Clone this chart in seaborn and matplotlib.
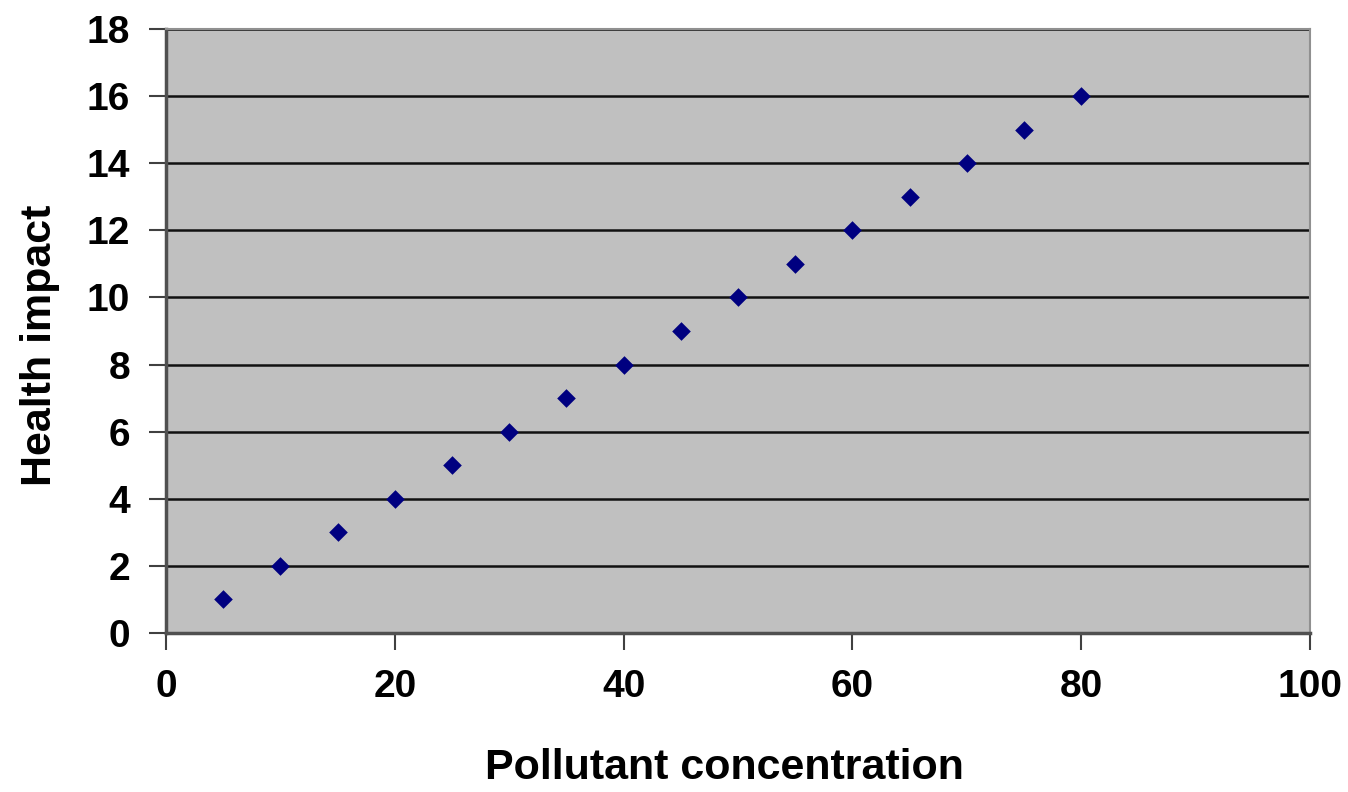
import pandas as pd
import matplotlib.pyplot as plt
import seaborn as sns

# 数据
concentration = [5, 10, 15, 20, 25, 30, 35, 40, 45, 50, 55, 60, 65, 70, 75, 80]
health_impact = [1, 2, 3, 4, 5, 6, 7, 8, 9, 10, 11, 12, 13, 14, 15, 16]

df = pd.DataFrame({'Pollutant concentration': concentration,
                   'Health impact': health_impact})

sns.set_style('ticks')
plt.rcParams['font.family'] = ['Liberation Sans', 'DejaVu Sans']
plt.rcParams['font.weight'] = 'bold'
plt.rcParams['text.color'] = 'black'
plt.rcParams['axes.labelcolor'] = 'black'
plt.rcParams['xtick.labelcolor'] = 'black'
plt.rcParams['ytick.labelcolor'] = 'black'

fig = plt.figure(figsize=(13.48, 7.92), dpi=100)
ax = fig.add_axes([166 / 1348, 1 - 633 / 792, (1310 - 166) / 1348, (633 - 29) / 792])
ax.set_facecolor('#c0c0c0')

sns.scatterplot(data=df, x='Pollutant concentration', y='Health impact',
                marker='D', s=90, color='#000080', edgecolor='#000080',
                linewidth=0, ax=ax, zorder=3)

ax.set_xlim(0, 100)
ax.set_ylim(0, 18)
ax.set_xticks(range(0, 101, 20))
ax.set_yticks(range(0, 19, 2))
ax.yaxis.grid(True, color='#111111', linewidth=1.8)
ax.set_axisbelow(True)

for side in ['left', 'bottom']:
    ax.spines[side].set_color('#505050')
    ax.spines[side].set_linewidth(2.5)
for side in ['top', 'right']:
    ax.spines[side].set_color('#909090')
    ax.spines[side].set_linewidth(1.5)

ax.tick_params(axis='both', direction='out', length=12, width=1.5,
               color='#404040', labelsize=28, pad=14)
ax.set_xlabel('Pollutant concentration', fontsize=31, fontweight='bold')
ax.set_ylabel('Health impact', fontsize=31, fontweight='bold')
ax.xaxis.set_label_coords(0.488, -0.19)
ax.yaxis.set_label_coords(-0.093, 0.477)

fig.savefig('out.png', dpi=100)
